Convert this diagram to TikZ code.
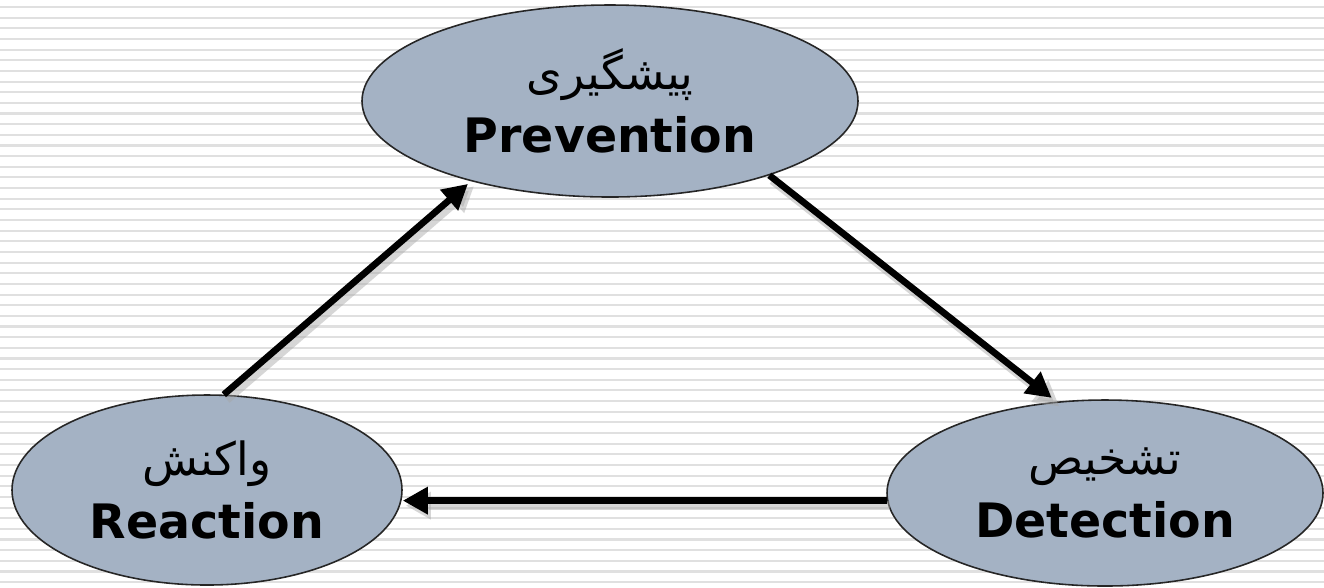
\documentclass[tikz,border=0pt]{standalone}
\usepackage{fontspec}
\setmainfont{DejaVu Sans}
\newfontfamily\persfont[Script=Arabic]{DejaVu Sans}
\newfontfamily\engfont{DejaVu Sans}
\TeXXeTstate=1
\usetikzlibrary{shapes.geometric,arrows.meta}
\definecolor{ellfill}{RGB}{164,178,196}
\definecolor{stripecol}{RGB}{224,224,224}
\tikzset{
  bubble/.style={ellipse, draw=black!85, line width=0.45pt, fill=ellfill, inner sep=0pt, align=center},
  flow/.style={line width=1.9pt, -{Triangle[length=2.5mm,width=2.6mm]}},
  flowshadow/.style={line width=2.4pt, draw=black!35, opacity=0.45, -{Triangle[length=2.5mm,width=2.6mm]}},
  stripe/.style={draw=stripecol, line width=0.6pt},
}
\newcommand{\twolines}[2]{{\persfont\fontsize{13pt}{15pt}\selectfont\beginR #1\endR}\\[1.2mm]{\engfont\bfseries\fontsize{13.5pt}{16pt}\selectfont #2}}
\begin{document}
\begin{tikzpicture}[x=0.1mm,y=-0.1mm]
\useasboundingbox (0,0) rectangle (1324,587);
\fill[white] (0,0) rectangle (1324,587);
\foreach \i in {0,...,54} {
  \draw[stripe] (0,{7+\i*10.65}) -- (1324,{7+\i*10.65});
}
\node[bubble, minimum width=49.6mm, minimum height=19.2mm] (pre) at (610,101) {\twolines{پیشگیری}{Prevention}};
\node[bubble, minimum width=39mm, minimum height=19mm] (rea) at (207,490) {\twolines{واکنش}{Reaction}};
\node[bubble, minimum width=43.6mm, minimum height=18.6mm] (det) at (1105,493) {\twolines{تشخیص}{Detection}};
\coordinate (hs) at (det.182);
\coordinate (he) at (rea.east |- hs);
% shadows
\draw[flowshadow, transform canvas={shift={(0.3mm,-0.5mm)}}] (rea.80) -- (pre.210);
\draw[flowshadow, transform canvas={shift={(0.3mm,-0.5mm)}}] (pre.-25) -- (det.118);
\draw[flowshadow, transform canvas={shift={(0.3mm,-0.5mm)}}] (hs) -- (he);
% arrows
\draw[flow, shorten >=0.4mm] (rea.80) -- (pre.210);
\draw[flow, shorten >=0.6mm] (pre.-25) -- (det.118);
\draw[flow] (hs) -- (he);
\end{tikzpicture}
\end{document}
